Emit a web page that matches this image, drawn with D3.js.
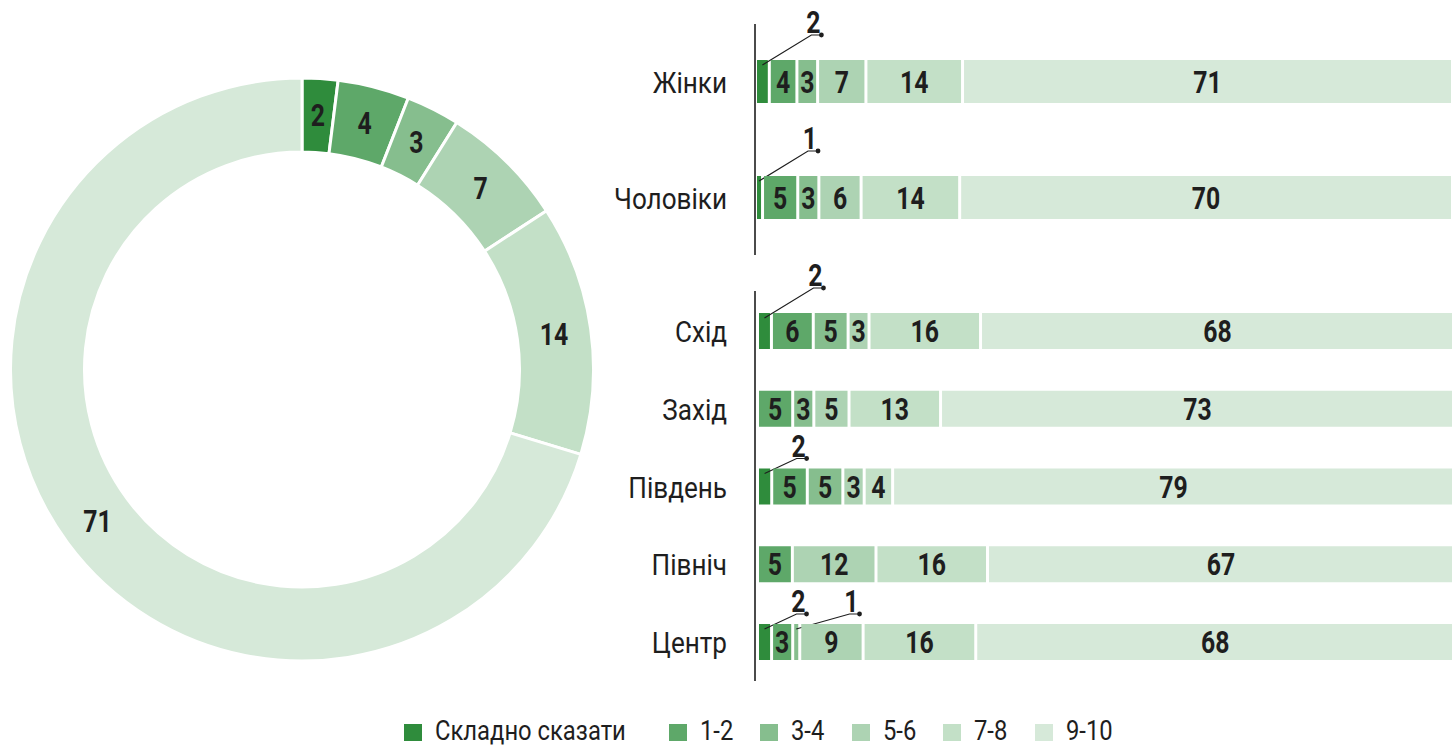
<!DOCTYPE html>
<html>
<head>
<meta charset="utf-8">
<script src="https://cdn.jsdelivr.net/npm/d3@7/dist/d3.min.js"></script>
<style>
  html, body { margin: 0; padding: 0; background: #fff; }
  svg { display: block; }
  text { font-family: Roboto, "Noto Sans", sans-serif; fill: #1e1e1e; }
</style>
</head>
<body>
<svg id="chart" width="1452" height="746"></svg>
<script>
// ---------- DATA ----------
const categories = ["Складно сказати", "1-2", "3-4", "5-6", "7-8", "9-10"];
const colors = ["#2f8c3c", "#5ea869", "#86be8e", "#add3b3", "#c3e0c7", "#d6e9d9"];

// Overall (donut), order follows categories
const totalValues = [2, 4, 3, 7, 14, 71];

// Breakdown rows
const rowLabels = ["Жінки", "Чоловіки", "Схід", "Захід", "Південь", "Північ", "Центр"];
const rowGroup = [0, 0, 1, 1, 1, 1, 1];
const hardToSay = [2, 1, 2, 0, 2, 0, 2];
const score12   = [4, 5, 6, 5, 5, 5, 3];
const score34   = [3, 3, 5, 3, 5, 0, 1];
const score56   = [7, 6, 3, 5, 3, 12, 9];
const score78   = [14, 14, 16, 13, 4, 16, 16];
const score910  = [71, 70, 68, 73, 79, 67, 68];

// ---------- LAYOUT ----------
const svg = d3.select("#chart");
const series = [hardToSay, score12, score34, score56, score78, score910];
const rows = rowLabels.map((lab, i) => ({
  label: lab, group: rowGroup[i], values: series.map(s => s[i])
}));

const sxBold = 0.80, sxReg = 0.87;
function label(g, x, y, s, o) {
  o = o || {};
  return g.append("text")
    .attr("transform", `translate(${x},${y}) scale(${o.sx || sxReg},1)`)
    .attr("text-anchor", o.anchor || "middle")
    .attr("font-size", o.size || 30)
    .attr("font-weight", o.weight || 400)
    .text(s);
}

// ---- Donut ----
const cx = 302, cy = 369.5, rOut = 291.5, rIn = 217.5;
const pie = d3.pie().sort(null).value(d => d)(totalValues);
const arc = d3.arc().innerRadius(rIn).outerRadius(rOut);
const labelArc = d3.arc().innerRadius((rIn + rOut) / 2).outerRadius((rIn + rOut) / 2);
const dg = svg.append("g").attr("transform", `translate(${cx},${cy})`);
dg.selectAll("path").data(pie).join("path")
  .attr("d", arc)
  .attr("fill", (d, i) => colors[i])
  .attr("stroke", "#fff").attr("stroke-width", 3);
pie.forEach(d => {
  const [lx, ly] = labelArc.centroid(d);
  label(dg, lx, ly + 11, d.data, { size: 31, weight: 700, sx: sxBold });
});

// ---- Bars ----
const groups = [
  { rows: rows.filter(r => r.group === 0), y0: 60, y1: 219, band: 43, xStart: 757, axis: [24, 255] },
  { rows: rows.filter(r => r.group === 1), y0: 313, y1: 660, band: 36, xStart: 759, axis: [291, 681] }
];
const axisX = 755;
const barSpan = 697;
const gap = 3;

groups.forEach(grp => {
  const n = grp.rows.length;
  const step = n > 1 ? (grp.y1 - grp.y0 - grp.band) / (n - 1) : 0;
  const yPos = d3.scalePoint().domain(grp.rows.map(r => r.label))
    .range([grp.y0, grp.y1 - grp.band]);
  const g = svg.append("g");

  grp.rows.forEach((r, ri) => {
    const total = d3.sum(r.values);
    const x = d3.scaleLinear().domain([0, total]).range([grp.xStart, grp.xStart + barSpan]);
    const top = yPos(r.label);
    const mid = top + grp.band / 2;
    let cum = 0;
    let prevDot = null;
    label(g, 727, mid + 11, r.label, { anchor: "end", size: 30, sx: sxReg });
    r.values.forEach((v, ci) => {
      if (v <= 0) return;
      const x0 = x(cum), x1 = x(cum + v) - gap;
      g.append("rect").attr("x", x0).attr("y", top)
        .attr("width", Math.max(0, x1 - x0)).attr("height", grp.band)
        .attr("fill", colors[ci]);
      if (v >= 3) {
        label(g, (x0 + x1) / 2, mid + 11, v, { size: 31, weight: 700, sx: sxBold });
      } else {
        // callout
        const tall = ri === 0 || step > 100;
        const ax = (x0 + x1) / 2, ay = top + 5;
        let dx, dy;
        if (tall) { dx = ax + 59; dy = top - 25; }
        else { dx = prevDot ? prevDot + 53 : ax + 42; dy = top - 10; }
        prevDot = dx;
        g.append("path")
          .attr("d", `M${ax},${ay}L${dx - 10},${dy}L${dx},${dy}`)
          .attr("fill", "none").attr("stroke", "#1e1e1e").attr("stroke-width", 1.2);
        g.append("circle").attr("cx", dx).attr("cy", dy).attr("r", 2.4).attr("fill", "#1e1e1e");
        label(g, dx - 1, dy - 2, v, { anchor: "end", size: 31, weight: 700, sx: sxBold });
      }
      cum += v;
    });
  });
  g.append("line").attr("x1", axisX).attr("x2", axisX)
    .attr("y1", grp.axis[0]).attr("y2", grp.axis[1])
    .attr("stroke", "#1e1e1e").attr("stroke-width", 1.6);
});

// ---- Legend ----
const legendX = [404, 669, 760, 852, 943, 1035];
const lg = svg.append("g");
categories.forEach((c, i) => {
  lg.append("rect").attr("x", legendX[i]).attr("y", 724).attr("width", 18).attr("height", 17)
    .attr("fill", colors[i]);
  label(lg, legendX[i] + 31, 740, c, { anchor: "start", size: 28, sx: 0.85 });
});
</script>
</body>
</html>
